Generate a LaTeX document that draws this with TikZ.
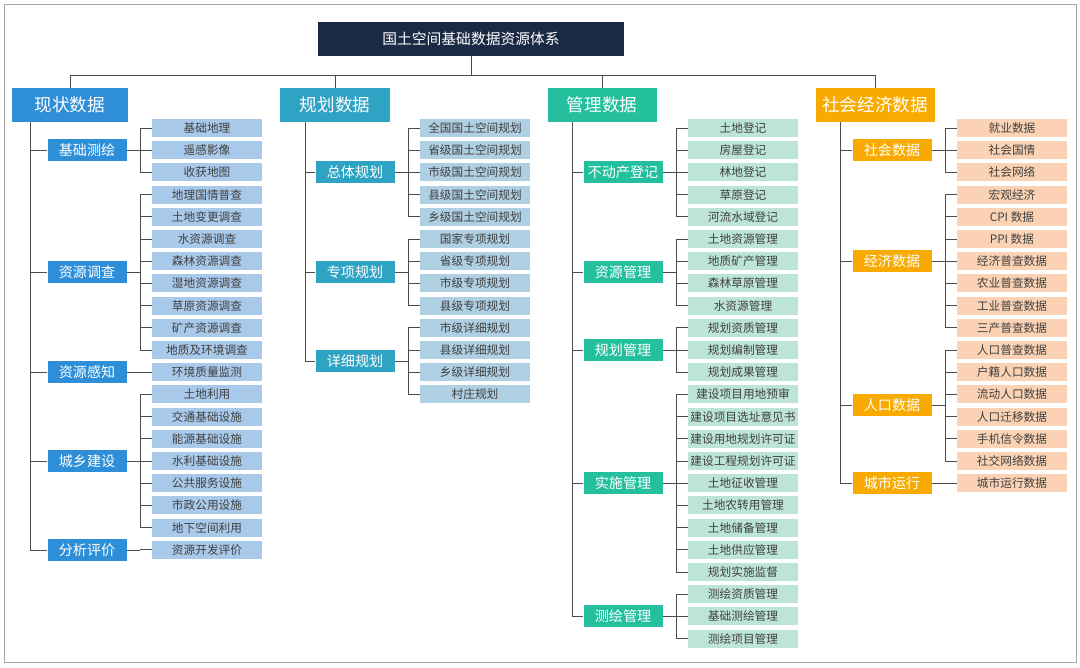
\documentclass[tikz,border=0pt]{standalone}
\usepackage{fontspec}
\setmainfont{Noto Sans CJK SC}
\usetikzlibrary{positioning}
\definecolor{navy}{HTML}{1B2A44}
\definecolor{cola}{HTML}{2E8FD8}
\definecolor{colb}{HTML}{2FA3C4}
\definecolor{colc}{HTML}{24C09E}
\definecolor{cold}{HTML}{F8AA00}
\definecolor{leafa}{HTML}{A9C9EA}
\definecolor{leafb}{HTML}{AFCFE2}
\definecolor{leafc}{HTML}{BDE5D5}
\definecolor{leafd}{HTML}{FBD3B4}
\tikzset{
  conn/.style={draw=black!70,line width=0.6pt},
  catbox/.style={fill=#1,text=white,minimum height=34*0.025cm,inner sep=0pt,font=\fontsize{12.5}{14}\selectfont},
  subbox/.style={fill=#1,text=white,minimum width=79*0.025cm,minimum height=22*0.025cm,inner sep=0pt,font=\fontsize{10}{12}\selectfont},
  leaf/.style={fill=#1,text=black!75,minimum width=110*0.025cm,minimum height=18*0.025cm,inner sep=0pt,font=\fontsize{8.3}{10}\selectfont}
}
\newcommand\grp[5]{% column, sub, first, last, bracket
  \draw[conn] (#2.east) -- (#2.east -| #5);
  \draw[conn] (#5 |- #1#3) -- (#5 |- #1#4);
  \foreach \k in {#3,...,#4} \draw[conn] (#5 |- #1\k) -- (#1\k.west);}
\begin{document}
\begin{tikzpicture}[x=0.025cm,y=-0.025cm]
\useasboundingbox (0,0) rectangle (1080,667);
\draw[black!35] (4,4) rectangle (1076,662);
% title and categories
\node[fill=navy,text=white,minimum width=306*0.025cm,minimum height=34*0.025cm,font=\fontsize{10.5}{12}\selectfont] (top) at (471,39) {国土空间基础数据资源体系};
\node[catbox=cola,minimum width=116*0.025cm] (ca) at (70,105) {现状数据};
\node[catbox=colb,minimum width=110*0.025cm] (cb) at (335,105) {规划数据};
\node[catbox=colc,minimum width=109*0.025cm] (cc) at (602,105) {管理数据};
\node[catbox=cold,minimum width=119*0.025cm] (cd) at (875,105) {社会经济数据};
\coordinate (bus) at (0,75);
\draw[conn] (top.south) -- (top.south |- bus);
\draw[conn] (ca.north) -- (ca.north |- bus) -- (cd.north |- bus) -- (cd.north);
\draw[conn] (cb.north) -- (cb.north |- bus);
\draw[conn] (cc.north) -- (cc.north |- bus);
% leaves
\foreach [count=\i] \t in {基础地理,遥感影像,收获地图,地理国情普查,土地变更调查,水资源调查,森林资源调查,湿地资源调查,草原资源调查,矿产资源调查,地质及环境调查,环境质量监测,土地利用,交通基础设施,能源基础设施,水利基础设施,公共服务设施,市政公用设施,地下空间利用,资源开发评价}
  \node[leaf=leafa] (a\i) at (207,105.8+22.2*\i) {\t};
\foreach [count=\i] \t in {全国国土空间规划,省级国土空间规划,市级国土空间规划,县级国土空间规划,乡级国土空间规划,国家专项规划,省级专项规划,市级专项规划,县级专项规划,市级详细规划,县级详细规划,乡级详细规划,村庄规划}
  \node[leaf=leafb] (b\i) at (475,105.8+22.2*\i) {\t};
\foreach [count=\i] \t in {土地登记,房屋登记,林地登记,草原登记,河流水域登记,土地资源管理,地质矿产管理,森林草原管理,水资源管理,规划资质管理,规划编制管理,规划成果管理,建设项目用地预审,建设项目选址意见书,建设用地规划许可证,建设工程规划许可证,土地征收管理,土地农转用管理,土地储备管理,土地供应管理,规划实施监督,测绘资质管理,基础测绘管理,测绘项目管理}
  \node[leaf=leafc] (c\i) at (743,105.8+22.2*\i) {\t};
\foreach [count=\i] \t in {就业数据,社会国情,社会网络,宏观经济,CPI 数据,PPI 数据,经济普查数据,农业普查数据,工业普查数据,三产普查数据,人口普查数据,户籍人口数据,流动人口数据,人口迁移数据,手机信令数据,社交网络数据,城市运行数据}
  \node[leaf=leafd] (d\i) at (1012,105.8+22.2*\i) {\t};
% sub groups
\coordinate (ba) at (140,0);
\coordinate (bb) at (408,0);
\coordinate (bc) at (676,0);
\coordinate (bd) at (945,0);
\node[subbox=cola] (a-s1) at (87,150) {基础测绘};
\node[subbox=cola] (a-s2) at (87,272) {资源调查};
\node[subbox=cola] (a-s3) at (87,372) {资源感知};
\node[subbox=cola] (a-s4) at (87,461) {城乡建设};
\node[subbox=cola] (a-s5) at (87,550) {分析评价};
\node[subbox=colb] (b-s1) at (355,172) {总体规划};
\node[subbox=colb] (b-s2) at (355,272) {专项规划};
\node[subbox=colb] (b-s3) at (355,361) {详细规划};
\node[subbox=colc] (c-s1) at (623,172) {不动产登记};
\node[subbox=colc] (c-s2) at (623,272) {资源管理};
\node[subbox=colc] (c-s3) at (623,350) {规划管理};
\node[subbox=colc] (c-s4) at (623,483) {实施管理};
\node[subbox=colc] (c-s5) at (623,616) {测绘管理};
\node[subbox=cold] (d-s1) at (892,150) {社会数据};
\node[subbox=cold] (d-s2) at (892,261) {经济数据};
\node[subbox=cold] (d-s3) at (892,405) {人口数据};
\node[subbox=cold] (d-s4) at (892,483) {城市运行};
\grp{a}{a-s1}{1}{3}{ba} \grp{a}{a-s2}{4}{11}{ba} \grp{a}{a-s3}{12}{12}{ba}
\grp{a}{a-s4}{13}{19}{ba} \grp{a}{a-s5}{20}{20}{ba}
\grp{b}{b-s1}{1}{5}{bb} \grp{b}{b-s2}{6}{9}{bb} \grp{b}{b-s3}{10}{13}{bb}
\grp{c}{c-s1}{1}{5}{bc} \grp{c}{c-s2}{6}{9}{bc} \grp{c}{c-s3}{10}{12}{bc}
\grp{c}{c-s4}{13}{21}{bc} \grp{c}{c-s5}{22}{24}{bc}
\grp{d}{d-s1}{1}{3}{bd} \grp{d}{d-s2}{4}{10}{bd} \grp{d}{d-s3}{11}{16}{bd} \grp{d}{d-s4}{17}{17}{bd}
% stems
\coordinate (sa) at (30,0);
\coordinate (sb) at (305,0);
\coordinate (sc) at (572,0);
\coordinate (sd) at (840,0);
\draw[conn] (ca.south -| sa) -- (sa |- a-s5);
\draw[conn] (cb.south -| sb) -- (sb |- b-s3);
\draw[conn] (cc.south -| sc) -- (sc |- c-s5);
\draw[conn] (cd.south -| sd) -- (sd |- d-s4);
\foreach \s in {1,...,5} \draw[conn] (sa |- a-s\s) -- (a-s\s.west);
\foreach \s in {1,...,3} \draw[conn] (sb |- b-s\s) -- (b-s\s.west);
\foreach \s in {1,...,5} \draw[conn] (sc |- c-s\s) -- (c-s\s.west);
\foreach \s in {1,...,4} \draw[conn] (sd |- d-s\s) -- (d-s\s.west);
\end{tikzpicture}
\end{document}
